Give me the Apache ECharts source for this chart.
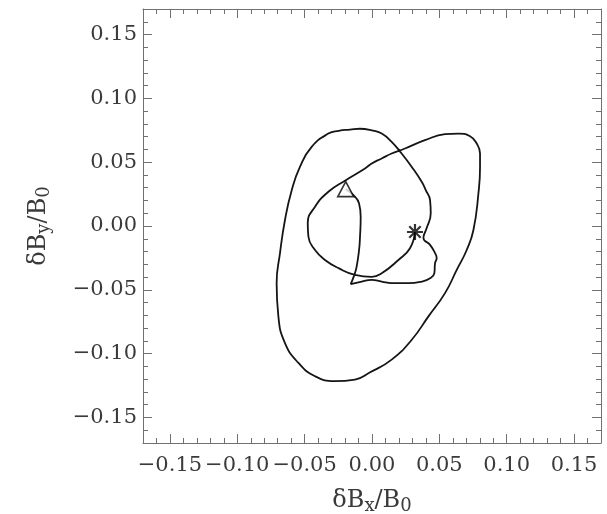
<!DOCTYPE html>
<html>
<head>
<meta charset="utf-8">
<script src="https://cdn.jsdelivr.net/npm/echarts@6/dist/echarts.min.js"></script>
<style>
  html, body { margin: 0; padding: 0; background: #fff; }
  #chart { width: 607px; height: 514px; }
</style>
</head>
<body>
<div id="chart"></div>
<script>
// hodogram: path from the triangle (start) to the asterisk (end)
const bx = [
  -0.0195, -0.0138, -0.0096, -0.0084, -0.0089, -0.0096, -0.0114, -0.0131, -0.0158,
  -0.0076, -0.0002, 0.0072, 0.0146, 0.0270, 0.0369, 0.0431, 0.0463, 0.0468, 0.0480,
  0.0468, 0.0431, 0.0382, 0.0406, 0.0436, 0.0431, 0.0399, 0.0369, 0.0295, 0.0220,
  0.0146, 0.0072, -0.0002, -0.0091, -0.0163, -0.0247, -0.0324, -0.0448, -0.0535,
  -0.0596, -0.0646, -0.0683, -0.0708, -0.0695, -0.0646, -0.0546, -0.0423, -0.0275,
  -0.0126, -0.0017, 0.0146, 0.0295, 0.0419, 0.0542, 0.0629, 0.0703, 0.0753, 0.0790,
  0.0802, 0.0802, 0.0777, 0.0728, 0.0641, 0.0542, 0.0393, 0.0245, 0.0146, 0.0072,
  -0.0002, -0.0052, -0.0195, -0.0324, -0.0423, -0.0477, -0.0472, -0.0423, -0.0349,
  -0.0249, -0.0126, -0.0002, 0.0072, 0.0196, 0.0282, 0.0319
];
const by = [
  0.0289, 0.0242, 0.0177, 0.0073, -0.0084, -0.0188, -0.0318, -0.0383, -0.0455,
  -0.0435, -0.0422, -0.0435, -0.0448, -0.0448, -0.0435, -0.0409, -0.0370, -0.0291, -0.0252,
  -0.0213, -0.0148, -0.0094, -0.0016, 0.0099, 0.0203, 0.0281, 0.0346, 0.0463, 0.0568,
  0.0659, 0.0724, 0.0750, 0.0762, 0.0755, 0.0746, 0.0724, 0.0620, 0.0463,
  0.0281, 0.0047, -0.0213, -0.0448, -0.0708, -0.0917, -0.1073, -0.1177, -0.1216,
  -0.1203, -0.1148, -0.1047, -0.0891, -0.0708, -0.0526, -0.0344, -0.0188, -0.0031, 0.0255,
  0.0463, 0.0568, 0.0646, 0.0703, 0.0724, 0.0719, 0.0672, 0.0607, 0.0568, 0.0529,
  0.0490, 0.0451, 0.0359, 0.0268, 0.0151, 0.0021, -0.0084, -0.0188, -0.0266,
  -0.0330, -0.0383, -0.0398, -0.0370, -0.0266, -0.0174, -0.0047
];

const majorTicks = [-0.15, -0.10, -0.05, 0.00, 0.05, 0.10, 0.15];
const minorTicks = [
  -0.16, -0.14, -0.13, -0.12, -0.11, -0.09, -0.08, -0.07, -0.06,
  -0.04, -0.03, -0.02, -0.01, 0.01, 0.02, 0.03, 0.04,
  0.06, 0.07, 0.08, 0.09, 0.11, 0.12, 0.13, 0.14, 0.16
];
const axisMin = -0.17;
const axisMax = 0.17;

const FONT = 'DejaVu Serif';
const frameColor = '#707070';
const textColor = '#3a3a3a';

const path = bx.map((x, i) => [x, by[i]]);

function fmt(v) {
  return (v < 0 ? '\u2212' : '') + Math.abs(v).toFixed(2);
}

const nameRich = {
  a: { fontFamily: FONT, fontSize: 24, color: textColor },
  s: { fontFamily: FONT, fontSize: 18, color: textColor, padding: [10, 0, 0, 0] }
};

// one axis per side for the long ticks, one more for the short ticks
function makeAxis(dim, position, ticks, len, labels) {
  const ax = {
    type: 'value',
    position: position,
    min: axisMin,
    max: axisMax,
    splitLine: { show: false },
    axisLine: { show: labels !== undefined || len > 6, onZero: false,
                lineStyle: { color: frameColor, width: 1 } },
    axisTick: { show: true, inside: true, length: len, customValues: ticks,
                lineStyle: { color: frameColor, width: 1 } },
    axisLabel: { show: false, customValues: ticks }
  };
  if (labels) {
    ax.axisLabel = {
      show: true,
      customValues: ticks,
      formatter: fmt,
      fontFamily: FONT,
      fontSize: 21,
      color: textColor,
      margin: dim === 'x' ? 12 : 6
    };
    ax.nameLocation = 'middle';
    ax.nameTextStyle = { rich: nameRich };
    if (dim === 'x') {
      ax.name = '{a|\u03b4B}{s|x}{a|/B}{s|0}';
      ax.nameGap = 44;
    } else {
      ax.name = '{a|\u03b4B}{s|y}{a|/B}{s|0}';
      ax.nameRotate = 90;
      ax.nameGap = 90;
    }
  }
  return ax;
}

const chart = echarts.init(document.getElementById('chart'));
chart.setOption({
  animation: false,
  backgroundColor: '#fff',
  grid: { left: 143, right: 6, top: 9, bottom: 71, containLabel: false, outerBoundsMode: 'none' },
  xAxis: [
    makeAxis('x', 'bottom', majorTicks, 9, true),
    makeAxis('x', 'top', majorTicks, 9),
    makeAxis('x', 'bottom', minorTicks, 5),
    makeAxis('x', 'top', minorTicks, 5)
  ],
  yAxis: [
    makeAxis('y', 'left', majorTicks, 9, true),
    makeAxis('y', 'right', majorTicks, 9),
    makeAxis('y', 'left', minorTicks, 5),
    makeAxis('y', 'right', minorTicks, 5)
  ],
  series: [
    {
      type: 'line',
      data: path,
      showSymbol: false,
      smooth: 0.5,
      lineStyle: { color: '#151515', width: 1.8 },
      z: 2
    },
    {
      type: 'scatter',
      data: [path[0]],
      symbol: 'triangle',
      symbolSize: [16, 15],
      itemStyle: { color: '#fff', borderColor: '#000', borderWidth: 1.6 },
      z: 3
    },
    {
      type: 'scatter',
      data: [path[path.length - 1]],
      symbol: 'path://M8,0L8,16M0,8L16,8M2.3,2.3L13.7,13.7M2.3,13.7L13.7,2.3',
      symbolSize: 16,
      itemStyle: { color: 'none', borderColor: '#000', borderWidth: 2.2 },
      z: 3
    }
  ]
});
</script>
</body>
</html>
